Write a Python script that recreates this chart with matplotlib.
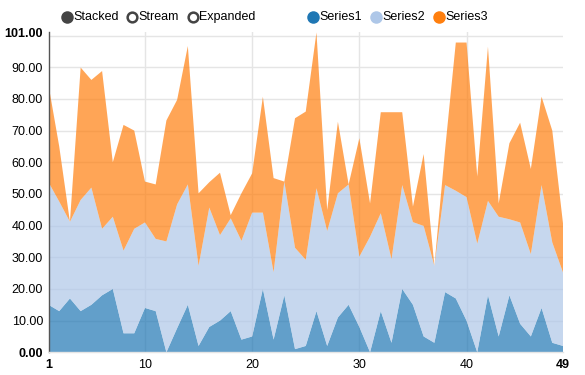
import matplotlib
matplotlib.use("Agg")
import matplotlib.pyplot as plt
from matplotlib.lines import Line2D
import numpy as np

plt.rcParams['font.family'] = ['Liberation Sans', 'DejaVu Sans']

x = list(range(1, 50))
series_names = ["Series1", "Series2", "Series3"]
series1 = [15, 13, 17, 13, 15, 18, 20, 6, 6, 14, 13, 0, 7.6, 15, 2, 8, 10, 13, 4, 5,
           20, 4, 18, 1, 2, 13, 2, 11, 15, 8, 0, 13, 3, 20, 15, 5, 3, 19, 17, 10,
           0, 18, 5, 18, 9, 5, 14, 3, 2]
series2 = [38.7, 34.6, 24.2, 35.1, 37, 21, 22.8, 26.1, 33, 27, 22.8, 35, 39.1, 38, 25.3,
           37.7, 27, 29.3, 31.2, 39.1, 24.1, 21.3, 35.9, 32, 27.2, 38.8, 36.3, 39.2, 38,
           22.2, 36.5, 30.9, 26.4, 32.8, 26.1, 34.9, 24.3, 33.8, 34, 39, 34.3, 29.8, 37.8,
           24, 32, 26, 38.8, 31.7, 23.2]
series3 = [30.7, 17.4, 0, 41.8, 34, 49.8, 17.2, 39.7, 31, 12.9, 17.2, 38.2, 33, 43.7, 22.9,
           8, 19.7, 1, 15, 12.4, 36.6, 29.7, 0, 40.9, 46.8, 49.2, 6.6, 22.6, 0, 37.4,
           10.5, 31.9, 46.4, 23, 4.9, 22.7, 0, 11.2, 46.8, 48.8, 21.2, 48.7, 4.2, 24,
           31.5, 26.9, 27.9, 35.3, 15.5]
colors = ["#1f77b4", "#aec7e8", "#ff7f0e"]

ytick_vals = [0, 10, 20, 30, 40, 50, 60, 70, 80, 90, 101]
ygrid_vals = [10, 20, 30, 40, 50, 60, 70, 80, 90, 100]
xtick_vals = [1, 10, 20, 30, 40, 49]
xgrid_vals = [10, 20, 30, 40]
controls = ["Stacked", "Stream", "Expanded"]

W, H = 585, 375
fig = plt.figure(figsize=(W / 100, H / 100), dpi=100)
ax = fig.add_axes([48.5 / W, 1 - 352.3 / H, (563 - 48.5) / W, (352.3 - 32.4) / H])

for g in ygrid_vals:
    ax.axhline(g, color="#e5e5e5", lw=1, zorder=0)
for g in xgrid_vals:
    ax.axvline(g, color="#e5e5e5", lw=1, zorder=0)

ax.stackplot(x, series1, series2, series3, colors=colors, alpha=0.7, lw=0, zorder=1)

ax.set_xlim(1, 49)
ax.set_ylim(0, 101)

ax.set_yticks(ytick_vals)
ax.set_yticklabels([f"{v:.2f}" for v in ytick_vals])
ax.set_xticks(xtick_vals)
ax.set_xticklabels([str(v) for v in xtick_vals])
ax.tick_params(axis="both", length=0, labelsize=9, colors="#000000")
ax.tick_params(axis="y", pad=4)
ax.tick_params(axis="x", pad=5)
for lbl in ax.get_yticklabels():
    if lbl.get_text() in ("0.00", "101.00"):
        lbl.set_fontweight("bold")
for lbl in ax.get_xticklabels():
    if lbl.get_text() in ("1", "49"):
        lbl.set_fontweight("bold")

for s in ["top", "right"]:
    ax.spines[s].set_visible(False)
ax.spines["left"].set_color("#555555")
ax.spines["left"].set_linewidth(1)
ax.spines["bottom"].set_color("#e5e5e5")
ax.spines["bottom"].set_linewidth(1)

# controls legend
ly = 1 - 17.3 / H
ctrl_x = [67.3, 131.7, 192.7]
for i, (name, cx) in enumerate(zip(controls, ctrl_x)):
    if i == 0:
        m = Line2D([cx / W], [ly], transform=fig.transFigure, marker="o", markersize=7.8,
                   markerfacecolor="#444444", markeredgecolor="#444444", markeredgewidth=1.2, ls="none")
    else:
        m = Line2D([cx / W], [ly], transform=fig.transFigure, marker="o", markersize=7.0,
                   markerfacecolor="white", markeredgecolor="#444444", markeredgewidth=1.8, ls="none")
    fig.add_artist(m)
    fig.text((cx + 6.5) / W, ly, name, fontsize=9, va="center", ha="left", color="#000000")

ser_x = [312.7, 376.0, 439.3]
for name, c, cx in zip(series_names, colors, ser_x):
    m = Line2D([cx / W], [ly], transform=fig.transFigure, marker="o", markersize=7.8,
               markerfacecolor=c, markeredgecolor=c, markeredgewidth=1.2, ls="none")
    fig.add_artist(m)
    fig.text((cx + 6.5) / W, ly, name, fontsize=9, va="center", ha="left", color="#000000")

fig.savefig("out.png", dpi=100)
